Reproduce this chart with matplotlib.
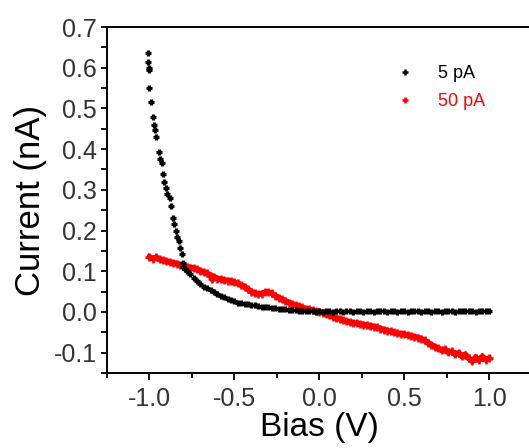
import matplotlib
matplotlib.use("Agg")
import matplotlib.pyplot as plt
from matplotlib.ticker import MultipleLocator

plt.rcParams['font.family'] = ['Liberation Sans', 'DejaVu Sans']

# ---- data ----
black_label = "5 pA"
red_label = "50 pA"

black_x = [-1.006, -1.006, -1.004, -1.004, -1.000, -0.988, -0.982, -0.975, -0.970, -0.959,
           -0.941, -0.935, -0.929, -0.923, -0.912, -0.900, -0.895, -0.882, -0.876, -0.864,
           -0.855, -0.841, -0.835, -0.829, -0.820, -0.811, -0.805, -0.800,
           -0.79, -0.78, -0.76, -0.74, -0.72, -0.70, -0.68, -0.66, -0.64, -0.62,
           -0.60, -0.58, -0.56, -0.54, -0.52, -0.50, -0.48, -0.46, -0.44, -0.42,
           -0.40, -0.38, -0.36, -0.34, -0.32, -0.30, -0.28, -0.26, -0.24, -0.22,
           -0.20, -0.18, -0.16, -0.14, -0.12, -0.10, -0.08, -0.06, -0.04, -0.02,
           0.00, 0.02, 0.04, 0.06, 0.08, 0.10, 0.12, 0.14, 0.16, 0.18,
           0.20, 0.22, 0.24, 0.26, 0.28, 0.30, 0.32, 0.34, 0.36, 0.38,
           0.40, 0.42, 0.44, 0.46, 0.48, 0.50, 0.52, 0.54, 0.56, 0.58,
           0.60, 0.62, 0.64, 0.66, 0.68, 0.70, 0.72, 0.74, 0.76, 0.78,
           0.80, 0.82, 0.84, 0.86, 0.88, 0.90, 0.92, 0.94, 0.96, 0.98, 1.00]
black_y = [0.635, 0.613, 0.600, 0.594, 0.549, 0.515, 0.478, 0.460, 0.446, 0.429,
           0.392, 0.375, 0.365, 0.340, 0.320, 0.305, 0.290, 0.281, 0.260, 0.232,
           0.215, 0.200, 0.185, 0.175, 0.158, 0.143, 0.121, 0.110,
           0.105, 0.100, 0.093, 0.084, 0.075, 0.068, 0.062, 0.058, 0.053, 0.050,
           0.045, 0.040, 0.036, 0.033, 0.029, 0.026, 0.023, 0.021, 0.020, 0.019,
           0.018, 0.016, 0.015, 0.013, 0.012, 0.011, 0.010, 0.009, 0.008, 0.007,
           0.006, 0.005, 0.004, 0.004, 0.003, 0.003, 0.002, 0.002, 0.002, 0.001,
           0.002, 0.001, 0.002, 0.002, 0.001, 0.002, 0.002, 0.001, 0.002, 0.002,
           0.001, 0.002, 0.002, 0.001, 0.002, 0.002, 0.001, 0.002, 0.002, 0.002,
           0.001, 0.002, 0.002, 0.001, 0.002, 0.002, 0.001, 0.002, 0.002, 0.002,
           0.001, 0.002, 0.002, 0.001, 0.002, 0.002, 0.001, 0.002, 0.002, 0.002,
           0.001, 0.002, 0.002, 0.003, 0.002, 0.002, 0.001, 0.002, 0.002, 0.002, 0.002]

red_x = [-1.00, -0.98, -0.96, -0.94, -0.92, -0.90, -0.88, -0.86, -0.84, -0.82,
         -0.80, -0.78, -0.76, -0.74, -0.72, -0.70, -0.68, -0.66, -0.64, -0.63,
         -0.62, -0.60, -0.58, -0.56, -0.54, -0.52, -0.50, -0.48, -0.46, -0.44,
         -0.42, -0.40, -0.38, -0.36, -0.34, -0.32, -0.30, -0.28, -0.26, -0.24,
         -0.22, -0.20, -0.18, -0.16, -0.14, -0.12, -0.10, -0.08, -0.06, -0.04,
         -0.02, 0.00, 0.02, 0.04, 0.06, 0.08, 0.10, 0.12, 0.14, 0.16,
         0.18, 0.20, 0.22, 0.24, 0.26, 0.28, 0.30, 0.32, 0.34, 0.36,
         0.38, 0.40, 0.42, 0.44, 0.46, 0.48, 0.50, 0.52, 0.54, 0.56,
         0.58, 0.60, 0.62, 0.64, 0.66, 0.68, 0.70, 0.72, 0.74, 0.76,
         0.78, 0.80, 0.82, 0.84, 0.86, 0.88, 0.90, 0.92, 0.94, 0.96, 0.98, 1.00]
red_y = [0.135, 0.131, 0.134, 0.129, 0.127, 0.125, 0.122, 0.120, 0.119, 0.115,
         0.113, 0.111, 0.109, 0.107, 0.105, 0.101, 0.098, 0.095, 0.089, 0.082,
         0.086, 0.082, 0.080, 0.078, 0.077, 0.075, 0.073, 0.070, 0.066, 0.061,
         0.056, 0.050, 0.046, 0.044, 0.045, 0.048, 0.048, 0.046, 0.040, 0.035,
         0.031, 0.027, 0.023, 0.020, 0.016, 0.014, 0.011, 0.008, 0.006, 0.004,
         0.002, 0.001, -0.002, -0.005, -0.008, -0.012, -0.015, -0.017, -0.020, -0.023,
         -0.025, -0.027, -0.028, -0.030, -0.031, -0.033, -0.034, -0.036, -0.038, -0.041,
         -0.044, -0.046, -0.048, -0.050, -0.052, -0.054, -0.055, -0.057, -0.059, -0.061,
         -0.063, -0.066, -0.070, -0.076, -0.081, -0.086, -0.089, -0.094, -0.092, -0.099,
         -0.097, -0.104, -0.101, -0.109, -0.105, -0.114, -0.121, -0.112, -0.118, -0.110, -0.117, -0.114]

x_ticks = [-1.0, -0.5, 0.0, 0.5, 1.0]
y_ticks = [-0.1, 0.0, 0.1, 0.2, 0.3, 0.4, 0.5, 0.6, 0.7]

# ---- figure ----
fig = plt.figure(figsize=(5.29, 4.48), dpi=100)
ax = fig.add_axes([107 / 529, 75 / 448, 424.6 / 529, 346 / 448])

ax.plot(red_x, red_y, color='#ff0000', lw=4.3, solid_joinstyle='miter',
        marker='+', ms=5.5, mew=1.8, label=red_label, zorder=2)
ax.plot(black_x, black_y, color='black', ls='none', marker='+', ms=4.2, mew=2.3,
        label=black_label, zorder=3)

ax.set_xlim(-1.25, 1.25)
ax.set_ylim(-0.15, 0.7)
ax.set_xticks(x_ticks)
ax.set_yticks(y_ticks)
ax.set_xticklabels([f"{v:.1f}" for v in x_ticks])
ax.set_yticklabels([f"{v:.1f}" for v in y_ticks])
ax.xaxis.set_minor_locator(MultipleLocator(0.25))
ax.yaxis.set_minor_locator(MultipleLocator(0.05))

for s in ax.spines.values():
    s.set_linewidth(1.4)
ax.tick_params(axis='both', which='major', direction='out', width=1.3,
               labelsize=18, labelcolor='#333333')
ax.tick_params(axis='x', which='major', length=5, pad=5)
ax.tick_params(axis='x', which='minor', direction='out', length=3.5, width=1.3)
ax.tick_params(axis='y', which='major', length=4.5, pad=3)
ax.tick_params(axis='y', which='minor', direction='out', length=4, width=1.3)

ax.set_xlabel("Bias (V)", fontsize=24, labelpad=1)
ax.set_ylabel("Current (nA)", fontsize=25, labelpad=5)

# legend: black first, then red
handles, labels = ax.get_legend_handles_labels()
order = [1, 0]
leg = ax.legend([handles[i] for i in order], [labels[i] for i in order],
                loc='upper left', bbox_to_anchor=(396 / 529, 1 - 65 / 448),
                bbox_transform=fig.transFigure, frameon=False, fontsize=13,
                handlelength=1.0, handletextpad=1.3, labelspacing=0.62,
                borderpad=0, borderaxespad=0, labelcolor='linecolor')
for h in leg.legend_handles:
    h.set_linestyle('none')
    h.set_markersize(4)
    h.set_markeredgewidth(1.8)

fig.savefig("out.png", dpi=100)
